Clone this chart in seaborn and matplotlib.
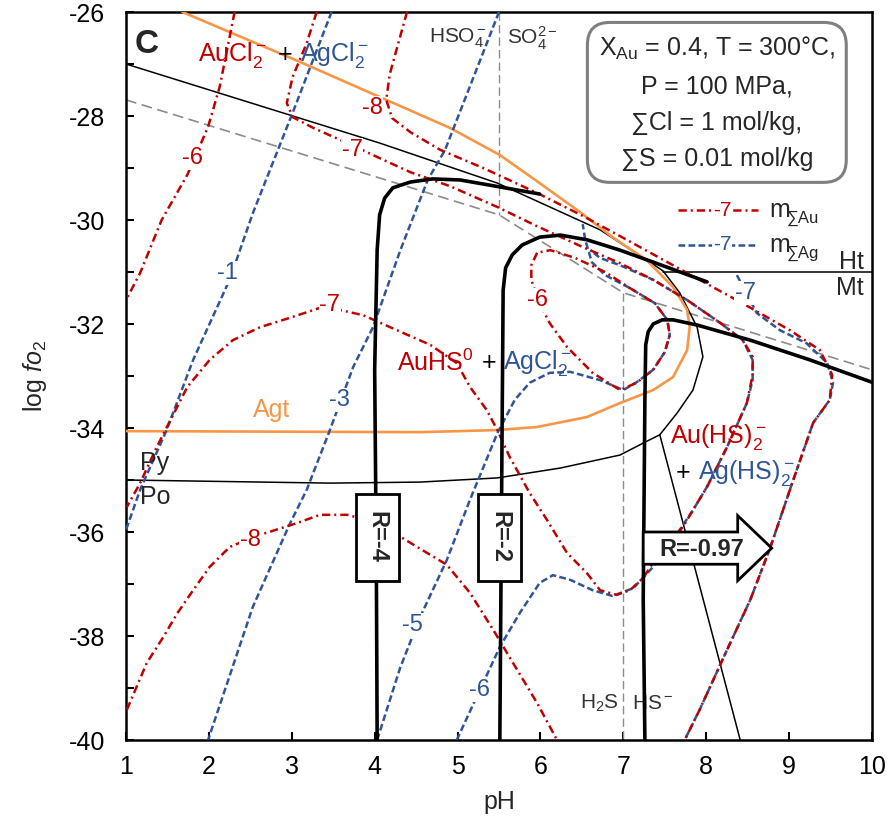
import numpy as np
import matplotlib
matplotlib.use("Agg")
import matplotlib.pyplot as plt
import seaborn as sns
from matplotlib.patches import FancyArrow, Rectangle
from matplotlib.ticker import MultipleLocator

RED = "#C00000"
BLUE = "#2F5597"
ORANGE = "#F79646"
GRAY = "#8C8C8C"

# mineral boundaries (pH, log fO2)
pyht_ph = [1.00, 4.06, 5.48, 6.72, 7.32, 7.48, 7.68, 7.89, 7.96, 7.84, 7.65, 7.44, 7.24, 6.96, 6.24, 5.48, 4.55, 3.46, 1.00]
pyht_fo = [-27.00, -28.52, -29.29, -30.19, -30.81, -30.98, -31.40, -32.06, -32.63, -33.27, -33.71, -34.13, -34.29, -34.52, -34.77, -34.96, -35.04, -35.06, -35.00]
htmt_ph = [7.48, 10.0]
htmt_fo = [-31.0, -31.0]
diag_ph = [7.44, 8.41]
diag_fo = [-34.13, -40.0]
sulf_ph = [1.0, 5.5, 7.0, 10.0]
sulf_fo = [-27.69, -29.90, -31.40, -32.88]

agt_ph = [1.68, 3.10, 4.91, 5.51, 5.99, 6.48, 6.87, 7.28, 7.60, 7.77, 7.80, 7.77, 7.60, 7.36, 6.96, 6.56, 5.96, 5.48, 4.55, 1.00]
agt_fo = [-26.0, -26.96, -28.23, -28.75, -29.29, -29.85, -30.33, -30.77, -31.29, -31.73, -32.06, -32.50, -33.02, -33.27, -33.52, -33.79, -33.98, -34.04, -34.08, -34.06]

# R contours (thick)
r4_ph = [4.03, 4.02, 4.00, 4.03, 4.06, 4.12, 4.22, 4.43, 4.70, 5.03, 5.39, 5.99]
r4_fo = [-40.0, -36.54, -32.88, -30.58, -29.90, -29.58, -29.38, -29.27, -29.21, -29.23, -29.33, -29.50]
r2_ph = [5.51, 5.54, 5.55, 5.58, 5.66, 5.78, 5.99, 6.24, 6.56, 6.96, 7.36, 8.01]
r2_fo = [-40.0, -33.46, -31.35, -30.92, -30.67, -30.48, -30.33, -30.29, -30.38, -30.58, -30.81, -31.19]
r097_ph = [7.26, 7.24, 7.26, 7.27, 7.30, 7.36, 7.47, 7.60, 7.89, 8.53, 9.25, 10.0]
r097_fo = [-40.0, -37.31, -33.46, -32.40, -32.15, -32.00, -31.92, -31.92, -32.02, -32.31, -32.69, -33.12]

# log m(sum Ag) contours
ag1_ph = [3.48, 3.01, 2.53, 2.25, 1.81, 1.49, 1.17, 1.00]
ag1_fo = [-26.0, -27.94, -29.87, -31.15, -32.69, -34.04, -35.19, -35.96]
ag3_ph = [5.50, 4.85, 4.64, 4.31, 3.98, 3.74, 3.46, 3.18, 2.98, 2.53, 1.99]
ag3_fo = [-26.0, -28.65, -29.23, -30.58, -32.06, -32.83, -34.04, -35.19, -35.83, -37.44, -40.0]
ag5_ph = [4.03, 4.31, 4.55, 4.87, 5.15, 5.48, 5.69, 5.87, 6.11, 6.36, 6.72, 7.00, 7.16, 7.36, 7.50, 7.56, 7.53, 7.38, 7.08, 6.78, 6.62, 6.54, 6.51]
ag5_fo = [-40.0, -38.60, -37.63, -36.54, -35.38, -34.10, -33.46, -33.13, -32.94, -32.92, -33.08, -33.27, -33.12, -32.88, -32.54, -32.21, -31.92, -31.60, -31.31, -31.06, -30.81, -30.38, -30.08]
ag6_ph = [4.99, 5.51, 5.75, 5.99, 6.15, 6.36, 6.63, 6.87, 7.12, 7.36, 7.60, 7.84, 8.01, 8.25, 8.49, 8.56, 8.56, 8.44, 8.17, 7.77, 7.36, 6.96, 6.72, 6.60]
ag6_fo = [-40.0, -38.21, -37.56, -36.98, -36.83, -36.92, -37.12, -37.23, -37.08, -36.67, -36.15, -35.58, -35.13, -34.37, -33.52, -33.08, -32.69, -32.31, -31.98, -31.54, -31.15, -30.87, -30.73, -30.58]
ag7_ph = [8.37, 8.61, 8.89, 9.21, 9.46, 9.53, 9.49, 9.29, 9.05, 8.77, 8.53, 8.25, 7.92, 7.74]
ag7_fo = [-31.06, -31.79, -32.12, -32.37, -32.75, -33.13, -33.46, -33.90, -35.0, -36.31, -37.31, -38.27, -39.42, -40.0]

# log m(sum Au) contours
au6a_ph = [2.31, 2.13, 1.99, 1.74, 1.43, 1.17, 1.00]
au6a_fo = [-26.0, -27.44, -28.21, -29.13, -30.0, -31.02, -31.54]
au6b_ph = [5.96, 5.89, 5.89, 5.97, 6.11, 6.32, 6.63, 6.96, 7.16, 7.36, 7.50, 7.56, 7.53, 7.38, 7.08, 6.78, 6.42, 6.12, 5.96]
au6b_fo = [-30.63, -30.87, -31.15, -31.54, -31.98, -32.44, -32.94, -33.27, -33.13, -32.88, -32.54, -32.21, -31.92, -31.60, -31.31, -31.00, -30.73, -30.58, -30.63]
au7_ph = [3.30, 3.18, 3.01, 2.94, 3.01, 3.26, 3.67, 4.06, 4.43, 4.91, 5.48, 5.96, 6.51, 6.96, 7.36, 7.77, 8.17, 8.44, 8.56, 8.56, 8.49, 8.25, 8.01, 7.72, 7.44, 7.24, 7.08, 6.92, 6.72, 6.56, 6.32, 6.08, 5.87, 5.63, 5.48, 5.35, 5.15, 4.99, 4.67, 4.27, 3.86, 3.58, 3.34, 2.98, 2.62, 2.29, 2.01, 1.74, 1.37, 1.17, 1.01]
au7_fo = [-26.0, -26.60, -27.25, -27.75, -28.02, -28.23, -28.52, -28.81, -29.08, -29.35, -29.75, -30.12, -30.52, -30.83, -31.15, -31.54, -31.98, -32.31, -32.63, -32.98, -33.52, -34.37, -35.13, -35.90, -36.40, -36.88, -37.12, -37.21, -37.12, -36.79, -36.40, -35.77, -35.25, -34.56, -34.04, -33.65, -33.21, -32.75, -32.40, -32.12, -31.83, -31.73, -31.69, -31.88, -32.06, -32.31, -32.69, -33.21, -34.37, -35.06, -35.52]
au8a_ph = [4.39, 4.28, 4.18, 4.14, 4.21, 4.43, 4.79, 5.31, 5.96, 6.51, 6.96, 7.44, 7.92, 8.47, 9.01, 9.37, 9.52, 9.49, 9.29, 9.05, 8.77, 8.53, 8.25, 7.92, 7.74]
au8a_fo = [-26.0, -26.63, -27.21, -27.69, -28.04, -28.31, -28.65, -29.0, -29.48, -29.92, -30.31, -30.73, -31.15, -31.63, -32.12, -32.50, -32.98, -33.46, -33.90, -35.0, -36.31, -37.31, -38.27, -39.42, -40.0]
au8b_ph = [1.01, 1.25, 1.45, 1.62, 1.81, 2.01, 2.25, 2.53, 3.06, 3.34, 3.67, 4.00, 4.34, 4.63, 4.87, 5.15, 5.43, 5.67, 5.96, 6.20]
au8b_fo = [-39.42, -38.52, -38.02, -37.56, -37.12, -36.67, -36.29, -36.10, -35.83, -35.67, -35.67, -35.81, -36.12, -36.40, -36.63, -37.17, -37.88, -38.52, -39.29, -40.0]

sns.set_theme(style="ticks")
plt.rcParams["font.family"] = ["Liberation Sans", "DejaVu Sans"]
plt.rcParams["mathtext.fontset"] = "custom"
plt.rcParams["mathtext.rm"] = "Liberation Sans"
plt.rcParams["mathtext.it"] = "Liberation Sans:italic"
plt.rcParams["mathtext.bf"] = "Liberation Sans:bold"
plt.rcParams["axes.unicode_minus"] = False

fig = plt.figure(figsize=(8.9, 8.25), dpi=100)
ax = fig.add_axes([126 / 890, 1 - 740 / 825, 746 / 890, 728 / 825])


def curve(xs, ys, color, lw, ls="-", z=2):
    sns.lineplot(x=xs, y=ys, sort=False, estimator=None, color=color,
                 lw=lw, linestyle=ls, ax=ax, zorder=z)


gray_ls = (0, (6.5, 3.3))
red_ls = (0, (3.3, 1.6, 0.8, 1.6))
blue_ls = (0, (2.7, 1.3))

curve(sulf_ph, sulf_fo, GRAY, 1.2, gray_ls)
curve([5.5, 5.5], [-26.0, -29.90], GRAY, 1.0, (0, (6, 3)))
curve([7.0, 7.0], [-31.40, -40.0], GRAY, 1.0, (0, (6, 3)))
curve(pyht_ph, pyht_fo, "black", 1.1)
curve(htmt_ph, htmt_fo, "black", 1.1)
curve(diag_ph, diag_fo, "black", 1.1)
curve(agt_ph, agt_fo, ORANGE, 1.9, z=3)

for xs, ys in [(ag1_ph, ag1_fo), (ag3_ph, ag3_fo), (ag5_ph, ag5_fo),
               (ag6_ph, ag6_fo), (ag7_ph, ag7_fo)]:
    curve(xs, ys, BLUE, 1.8, blue_ls, z=4)
for xs, ys in [(au6a_ph, au6a_fo), (au6b_ph, au6b_fo), (au7_ph, au7_fo),
               (au8a_ph, au8a_fo), (au8b_ph, au8b_fo)]:
    curve(xs, ys, RED, 1.8, red_ls, z=5)

for xs, ys in [(r4_ph, r4_fo), (r2_ph, r2_fo), (r097_ph, r097_fo)]:
    curve(xs, ys, "black", 2.6, z=6)

ax.set_xlim(1, 10)
ax.set_ylim(-40, -26)
ax.set_xticks(range(1, 11))
ax.set_yticks(range(-40, -25, 2))
ax.yaxis.set_minor_locator(MultipleLocator(1))
ax.tick_params(which="both", direction="in", length=6, width=1.5,
               labelsize=18, colors="black")
ax.tick_params(axis="x", pad=11)
ax.tick_params(axis="y", pad=15)
for sp in ax.spines.values():
    sp.set_linewidth(1.8)
    sp.set_color("black")
    sp.set_visible(True)
ax.set_xlabel("pH", fontsize=18, labelpad=8)
ax.set_ylabel(r"log $\mathit{fo}_2$", fontsize=18, labelpad=14)

# contour labels
wb = dict(fc="white", ec="none", pad=0.5)
for x, y, t in [(1.80, -28.81, "-6"), (3.97, -27.85, "-8"), (3.73, -28.65, "-7"),
                (3.46, -31.63, "-7"), (5.97, -31.54, "-6"), (2.50, -36.15, "-8")]:
    ax.text(x, y, t, color=RED, fontsize=17, ha="center", va="center", bbox=wb, zorder=7)
for x, y, t in [(2.22, -31.02, "-1"), (3.58, -33.46, "-3"), (4.46, -37.79, "-5"),
                (5.27, -39.04, "-6"), (8.47, -31.40, "-7")]:
    ax.text(x, y, t, color=BLUE, fontsize=17, ha="center", va="center", bbox=wb, zorder=7)

# field labels
ax.text(1.87, -26.83, r"AuCl$_2^-$", color=RED, fontsize=18, va="center", zorder=8)
ax.text(2.92, -26.83, "+", color="black", fontsize=18, ha="center", va="center", zorder=8)
ax.text(3.10, -26.83, r"AgCl$_2^-$", color=BLUE, fontsize=18, va="center", zorder=8)
ax.text(4.27, -32.75, r"AuHS$^0$", color=RED, fontsize=18, va="center", zorder=8)
ax.text(5.38, -32.75, "+", color="black", fontsize=18, ha="center", va="center", zorder=8)
ax.text(5.55, -32.75, r"AgCl$_2^-$", color=BLUE, fontsize=18, va="center", zorder=8)
ax.text(7.56, -34.17, r"Au(HS)$_2^-$", color=RED, fontsize=18, va="center", zorder=8)
ax.text(7.72, -34.87, "+", color="black", fontsize=18, ha="center", va="center", zorder=8)
ax.text(7.90, -34.87, r"Ag(HS)$_2^-$", color=BLUE, fontsize=18, va="center", zorder=8)
ax.text(2.76, -33.65, "Agt", color=ORANGE, fontsize=18, ha="center", va="center", zorder=8)
ax.text(1.17, -34.67, "Py", fontsize=18, va="center", zorder=8)
ax.text(1.17, -35.33, "Po", fontsize=18, va="center", zorder=8)
ax.text(9.90, -30.81, "Ht", fontsize=18, ha="right", va="center", zorder=8)
ax.text(9.90, -31.31, "Mt", fontsize=18, ha="right", va="center", zorder=8)
ax.text(5.35, -26.5, r"HSO$_4^-$", fontsize=15, color="#333333", ha="right", va="center")
ax.text(5.60, -26.5, r"SO$_4^{2-}$", fontsize=15, color="#333333", ha="left", va="center")
ax.text(6.95, -39.3, r"H$_2$S", fontsize=15, color="#333333", ha="right", va="center")
ax.text(7.10, -39.3, r"HS$^-$", fontsize=15, color="#333333", ha="left", va="center")
ax.text(0.012, 0.955, "C", transform=ax.transAxes, fontsize=24, fontweight="bold", va="center")

# info box
ax.text(0.792, 0.875,
        "X$_{\\mathrm{Au}}$ = 0.4, T = 300°C,\nP = 100 MPa,\n∑Cl = 1 mol/kg,\n∑S = 0.01 mol/kg",
        transform=ax.transAxes, fontsize=18, ha="center", va="center",
        multialignment="center", linespacing=1.65, zorder=9,
        bbox=dict(boxstyle="round,pad=0.45,rounding_size=0.9", fc="white", ec="#7F7F7F", lw=2.2))

# legend samples
ax.plot([0.74, 0.847], [0.728, 0.728], transform=ax.transAxes, color=RED, lw=1.8, linestyle=red_ls)
ax.text(0.799, 0.728, "-7", transform=ax.transAxes, color=RED, fontsize=15, ha="center", va="center", bbox=wb)
ax.text(0.862, 0.728, "m", transform=ax.transAxes, fontsize=18, va="center")
ax.text(0.886, 0.716, "∑Au", transform=ax.transAxes, fontsize=12, va="center")
ax.plot([0.74, 0.847], [0.68, 0.68], transform=ax.transAxes, color=BLUE, lw=1.8, linestyle=blue_ls)
ax.text(0.799, 0.68, "-7", transform=ax.transAxes, color=BLUE, fontsize=15, ha="center", va="center", bbox=wb)
ax.text(0.862, 0.68, "m", transform=ax.transAxes, fontsize=18, va="center")
ax.text(0.886, 0.668, "∑Ag", transform=ax.transAxes, fontsize=12, va="center")

# R labels
for xc, t in [(4.03, "R=-4"), (5.51, "R=-2")]:
    ax.add_patch(Rectangle((xc - 0.26, -36.94), 0.52, 1.67, fc="white", ec="black", lw=2, zorder=10))
    ax.text(xc, -36.1, t, rotation=270, fontsize=17, fontweight="bold", ha="center", va="center", zorder=11)
ax.add_patch(FancyArrow(7.24, -36.31, 1.55, 0, width=0.62, head_width=1.25, head_length=0.41,
                        length_includes_head=True, fc="white", ec="black", lw=2, zorder=10))
ax.text(7.95, -36.33, "R=-0.97", fontsize=17, fontweight="bold", ha="center", va="center", zorder=11)

fig.savefig("out.png", dpi=100)
